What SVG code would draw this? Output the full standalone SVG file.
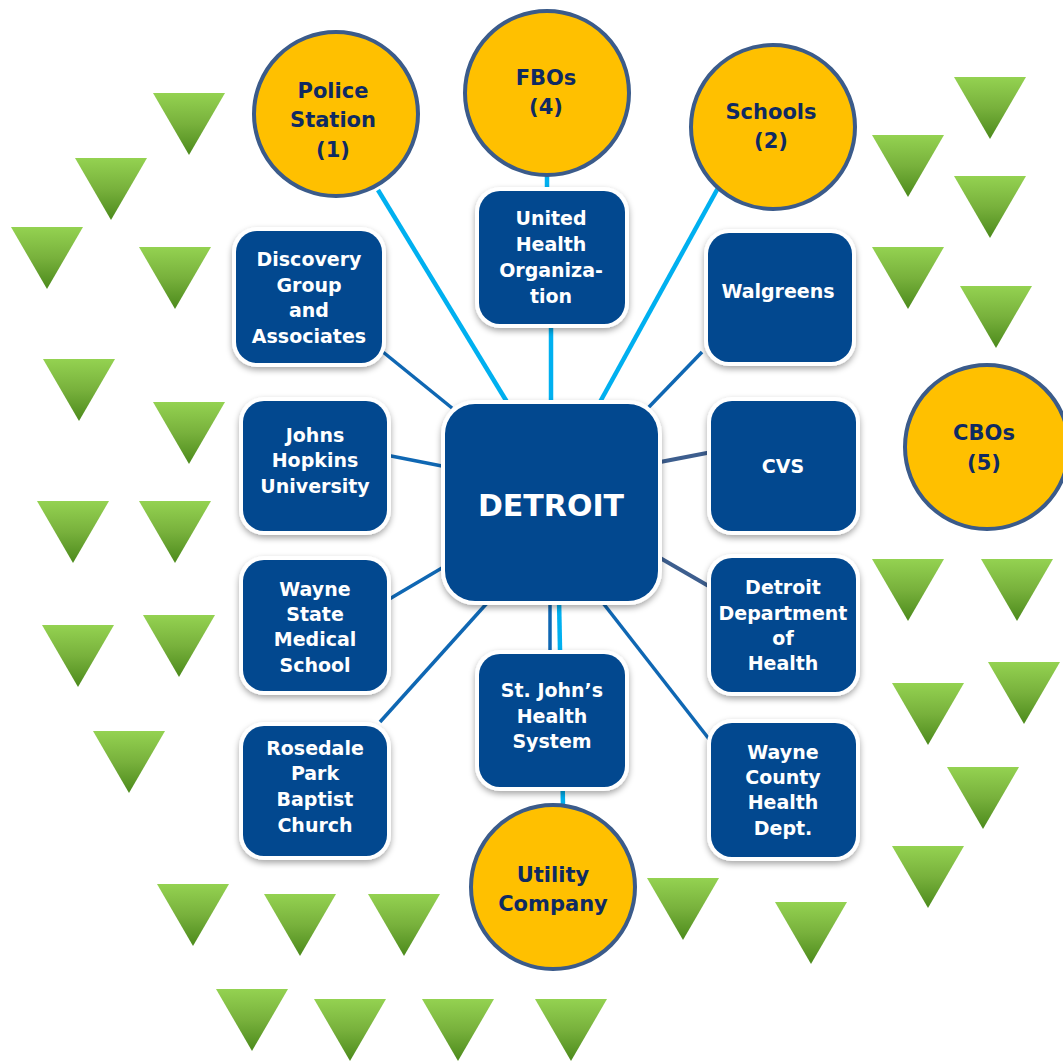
<svg xmlns="http://www.w3.org/2000/svg" xmlns:xlink="http://www.w3.org/1999/xlink" width="1063" height="1061" viewBox="0 0 1063 1061">
<defs>
<linearGradient id="tg" x1="0" y1="0" x2="0" y2="1">
<stop offset="0" stop-color="#94D251"/>
<stop offset="0.5" stop-color="#78B13C"/>
<stop offset="1" stop-color="#4C8A1C"/>
</linearGradient>
<path id="tri" d="M0,0 H72 L36,62 Z" fill="url(#tg)"/>
<filter id="sh" x="-20%" y="-20%" width="140%" height="150%">
<feDropShadow dx="0" dy="3" stdDeviation="3" flood-color="#000" flood-opacity="0.35"/>
</filter>
</defs>
<style>
.light{stroke:#00B0F0;stroke-width:4.5;fill:none}
.med{stroke:#0F67B3;stroke-width:3.5;fill:none}
.slate{stroke:#3D5E8E;stroke-width:4;fill:none}
.outer{fill:#FFFFFF;filter:url(#sh)}
.box{fill:#02488F}
.bt{font-family:"DejaVu Sans",Verdana,sans-serif;font-weight:bold;font-size:19px;fill:#FFFFFF;text-anchor:middle}
.ct{font-family:"DejaVu Sans",Verdana,sans-serif;font-weight:bold;font-size:21px;fill:#0F2A62;text-anchor:middle}
.circ{fill:#FFC000;stroke:#3B5B8A;stroke-width:4}
</style>
<rect width="1063" height="1061" fill="#FFFFFF"/>
<g id="triangles">
<use xlink:href="#tri" x="153" y="93"/>
<use xlink:href="#tri" x="75" y="158"/>
<use xlink:href="#tri" x="11" y="227"/>
<use xlink:href="#tri" x="139" y="247"/>
<use xlink:href="#tri" x="43" y="359"/>
<use xlink:href="#tri" x="153" y="402"/>
<use xlink:href="#tri" x="37" y="501"/>
<use xlink:href="#tri" x="139" y="501"/>
<use xlink:href="#tri" x="42" y="625"/>
<use xlink:href="#tri" x="143" y="615"/>
<use xlink:href="#tri" x="93" y="731"/>
<use xlink:href="#tri" x="157" y="884"/>
<use xlink:href="#tri" x="264" y="894"/>
<use xlink:href="#tri" x="368" y="894"/>
<use xlink:href="#tri" x="216" y="989"/>
<use xlink:href="#tri" x="314" y="999"/>
<use xlink:href="#tri" x="422" y="999"/>
<use xlink:href="#tri" x="535" y="999"/>
<use xlink:href="#tri" x="647" y="878"/>
<use xlink:href="#tri" x="775" y="902"/>
<use xlink:href="#tri" x="954" y="77"/>
<use xlink:href="#tri" x="872" y="135"/>
<use xlink:href="#tri" x="954" y="176"/>
<use xlink:href="#tri" x="872" y="247"/>
<use xlink:href="#tri" x="960" y="286"/>
<use xlink:href="#tri" x="872" y="559"/>
<use xlink:href="#tri" x="981" y="559"/>
<use xlink:href="#tri" x="892" y="683"/>
<use xlink:href="#tri" x="988" y="662"/>
<use xlink:href="#tri" x="947" y="767"/>
<use xlink:href="#tri" x="892" y="846"/>
</g>
<g id="connectors">
<line class="light" x1="378" y1="190" x2="507" y2="402"/>
<line class="light" x1="547" y1="176" x2="547" y2="192"/>
<line class="light" x1="551" y1="322" x2="551" y2="405"/>
<line class="light" x1="718" y1="188" x2="600" y2="402"/>
<line class="light" x1="559" y1="598" x2="563" y2="806"/>
<line class="med" x1="550" y1="598" x2="550" y2="658"/>
<line class="med" x1="383" y1="352" x2="452" y2="408"/>
<line class="med" x1="386" y1="455" x2="447" y2="467"/>
<line class="med" x1="386" y1="601" x2="447" y2="565"/>
<line class="med" x1="380" y1="722" x2="488" y2="602"/>
<line class="med" x1="702" y1="352" x2="648" y2="408"/>
<line class="med" x1="603" y1="603" x2="709" y2="739"/>
<line class="slate" x1="655" y1="463" x2="712" y2="452"/>
<line class="slate" x1="655" y1="555" x2="712" y2="588"/>
</g>
<g id="police">
<circle class="circ" cx="336" cy="114" r="82"/>
<text class="ct" x="333" y="98">Police</text>
<text class="ct" x="333" y="127">Station</text>
<text class="ct" x="333" y="157">(1)</text>
</g>
<g id="fbos">
<circle class="circ" cx="547" cy="93" r="82"/>
<text class="ct" x="546" y="85">FBOs</text>
<text class="ct" x="546" y="114">(4)</text>
</g>
<g id="schools">
<circle class="circ" cx="773" cy="127" r="82"/>
<text class="ct" x="771" y="119">Schools</text>
<text class="ct" x="771" y="148">(2)</text>
</g>
<g id="cbos">
<circle class="circ" cx="987" cy="447" r="82"/>
<text class="ct" x="984" y="440">CBOs</text>
<text class="ct" x="984" y="470">(5)</text>
</g>
<g id="utility">
<circle class="circ" cx="553" cy="887" r="82"/>
<text class="ct" x="553" y="882">Utility</text>
<text class="ct" x="553" y="911">Company</text>
</g>
<g id="detroit">
<rect class="outer" x="441" y="400" width="221" height="205" rx="34"/>
<rect class="box" x="445" y="404" width="213" height="197" rx="30"/>
<text x="551" y="516" font-family="DejaVu Sans, Verdana, sans-serif" font-weight="bold" font-size="30" fill="#FFFFFF" text-anchor="middle">DETROIT</text>
</g>
<g id="discovery">
<rect class="outer" x="232" y="227" width="154" height="140" rx="25"/>
<rect class="box" x="236" y="231" width="146" height="132" rx="21"/>
<text class="bt" x="309" y="266">Discovery</text>
<text class="bt" x="309" y="292">Group</text>
<text class="bt" x="309" y="317">and</text>
<text class="bt" x="309" y="343">Associates</text>
</g>
<g id="united">
<rect class="outer" x="475" y="187" width="154" height="141" rx="25"/>
<rect class="box" x="479" y="191" width="146" height="133" rx="21"/>
<text class="bt" x="551" y="225">United</text>
<text class="bt" x="551" y="251">Health</text>
<text class="bt" x="551" y="277">Organiza-</text>
<text class="bt" x="551" y="303">tion</text>
</g>
<g id="walgreens">
<rect class="outer" x="704" y="229" width="152" height="137" rx="25"/>
<rect class="box" x="708" y="233" width="144" height="129" rx="21"/>
<text class="bt" x="778" y="298">Walgreens</text>
</g>
<g id="johns-hopkins">
<rect class="outer" x="239" y="397" width="152" height="138" rx="25"/>
<rect class="box" x="243" y="401" width="144" height="130" rx="21"/>
<text class="bt" x="315" y="442">Johns</text>
<text class="bt" x="315" y="467">Hopkins</text>
<text class="bt" x="315" y="493">University</text>
</g>
<g id="cvs">
<rect class="outer" x="707" y="397" width="153" height="138" rx="25"/>
<rect class="box" x="711" y="401" width="145" height="130" rx="21"/>
<text class="bt" x="783" y="473">CVS</text>
</g>
<g id="wayne-state">
<rect class="outer" x="239" y="556" width="152" height="139" rx="25"/>
<rect class="box" x="243" y="560" width="144" height="131" rx="21"/>
<text class="bt" x="315" y="596">Wayne</text>
<text class="bt" x="315" y="621">State</text>
<text class="bt" x="315" y="646">Medical</text>
<text class="bt" x="315" y="672">School</text>
</g>
<g id="detroit-health">
<rect class="outer" x="707" y="554" width="153" height="142" rx="25"/>
<rect class="box" x="711" y="558" width="145" height="134" rx="21"/>
<text class="bt" x="783" y="594">Detroit</text>
<text class="bt" x="783" y="620">Department</text>
<text class="bt" x="783" y="645">of</text>
<text class="bt" x="783" y="670">Health</text>
</g>
<g id="st-johns">
<rect class="outer" x="475" y="650" width="154" height="141" rx="25"/>
<rect class="box" x="479" y="654" width="146" height="133" rx="21"/>
<text class="bt" x="552" y="697">St. John’s</text>
<text class="bt" x="552" y="723">Health</text>
<text class="bt" x="552" y="748">System</text>
</g>
<g id="rosedale">
<rect class="outer" x="239" y="722" width="152" height="138" rx="25"/>
<rect class="box" x="243" y="726" width="144" height="130" rx="21"/>
<text class="bt" x="315" y="755">Rosedale</text>
<text class="bt" x="315" y="780">Park</text>
<text class="bt" x="315" y="806">Baptist</text>
<text class="bt" x="315" y="832">Church</text>
</g>
<g id="wayne-county">
<rect class="outer" x="707" y="719" width="153" height="142" rx="25"/>
<rect class="box" x="711" y="723" width="145" height="134" rx="21"/>
<text class="bt" x="783" y="759">Wayne</text>
<text class="bt" x="783" y="784">County</text>
<text class="bt" x="783" y="809">Health</text>
<text class="bt" x="783" y="835">Dept.</text>
</g>
</svg>
